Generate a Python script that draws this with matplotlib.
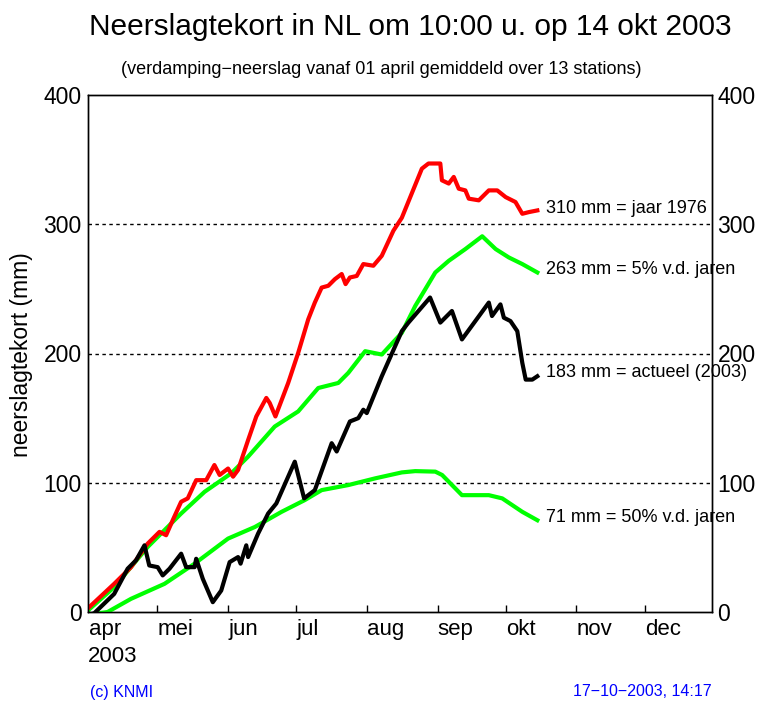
import matplotlib
matplotlib.use("Agg")
import matplotlib.pyplot as plt

plt.rcParams['font.family'] = ['Liberation Sans', 'DejaVu Sans']

# days since 1 April 2003
red_days = [0, 11, 18.4, 25.7, 30.9, 33.8, 36.7, 40.4, 43.3, 47, 51.4, 55, 57.3, 61, 63.2, 65.4, 69.8, 73.4,
            77.8, 79.3, 81.8, 87.4, 91.8, 96.2, 99.1, 102.1, 105, 107.9, 110.9, 112.6, 114.5, 117.5, 120.4,
            124.8, 128.5, 133.6, 137.3, 146.1, 149, 154.2, 154.9, 157.9, 160.1, 162.3, 165.2, 166.7, 171.1,
            175.5, 179.2, 182.9, 187.2, 190.2, 193.1, 196.8]
red_vals = [3.7, 21.8, 34.7, 52.9, 62, 59.4, 71, 85.3, 87.9, 102, 102, 113.7, 106, 111, 104.7, 109.9, 133, 151.3,
            165.6, 161.7, 151.3, 177.2, 200.5, 226.4, 239.4, 251, 252.4, 257.5, 261.5, 253.7, 258.8, 260, 269.2,
            267.9, 275.6, 295, 305, 343, 347, 347, 334, 331.5, 336.6, 327.5, 326.2, 319.8, 318.5,
            326.2, 326.2, 321, 317.2, 308.1, 309.4, 310.7]

p5_days = [0, 11, 25.7, 40.4, 50.7, 62.4, 69.8, 81.5, 91.8, 100.6, 109.4, 113.8, 121.2, 128.5, 137.3,
           143.2, 152, 157.9, 165.2, 172.6, 178.5, 184.3, 190.2, 196.8]
p5_vals = [2, 19.2, 50.3, 76.2, 93, 107.3, 120.2, 143.5, 155.2, 173.3, 177.2, 185, 201.8, 199.2, 216,
           236.8, 262.7, 271.7, 280.8, 290.7, 280.8, 274.3, 269.2, 262.7]

p50_days = [0, 8.1, 18.4, 33.1, 46.3, 61, 72.8, 84.5, 94.7, 102.1, 113.8, 125.6, 137.3, 143.2, 152, 155,
            163.7, 175.5, 181.4, 190.2, 196.8]
p50_vals = [-2, 0, 10.2, 21.8, 37.4, 56.8, 65.8, 77.5, 86.6, 94.3, 98.2, 103.4, 108, 109, 108.6, 106,
            90.4, 90.4, 87.9, 77.5, 71]

act_days = [0, 2.2, 11, 16.9, 20.6, 24.3, 26.4, 30.1, 32.3, 35.3, 40.4, 42.6, 46.3, 47, 49.9, 54.3, 58,
            61.7, 65.4, 66.5, 69, 69.8, 74.2, 78.6, 82.2, 90.3, 94.4, 99.1, 106.5, 108.7, 114.5, 118.2,
            120.4, 121.9, 128.5, 137.3, 140.2, 149.7, 154.2, 159.3, 163.7, 175.5, 176.9, 180.6, 182.1,
            185, 188, 190.2, 191.7, 194.6, 196.8]
act_vals = [-2, -1, 14, 33.5, 40, 51.6, 36, 34.7, 28.3, 33.5, 45.1, 34.7, 34.7, 41.2, 25.7, 7.6, 16.6,
            38.6, 42.5, 37.4, 51.6, 42.5, 60.7, 76.2, 84, 116.3, 87.9, 94.3, 130.6, 124.2, 147.4, 150,
            156.5, 153.9, 182.4, 217.3, 223.9, 243.3, 223.9, 232.9, 210.9, 239.4, 229, 238, 227.7,
            225.1, 217.3, 192.8, 179.8, 179.8, 182.4]

month_days = [0, 30, 61, 91, 122, 153, 183, 214, 244]
month_labels = ['apr', 'mei', 'jun', 'jul', 'aug', 'sep', 'okt', 'nov', 'dec']
y_ticks = [0, 100, 200, 300, 400]
grid_levels = [100, 200, 300]
annotations = ['310 mm = jaar 1976', '263 mm = 5% v.d. jaren',
               '183 mm = actueel (2003)', '71 mm = 50% v.d. jaren']
annot_vals = [310, 263, 183, 71]

fig = plt.figure(figsize=(7.61, 7.04), dpi=100)
ax = fig.add_axes([88/761, 1-612/704, (712-88)/761, (612-95)/704])

for g in grid_levels:
    ax.axhline(g, color='black', lw=1.0, ls=(0, (2.5, 2.5)), zorder=1)

ax.plot(p50_days, p50_vals, color='#00ff00', lw=3, solid_joinstyle='round', zorder=3)
ax.plot(p5_days, p5_vals, color='#00ff00', lw=3, solid_joinstyle='round', zorder=3)
ax.plot(red_days, red_vals, color='#ff0000', lw=3, solid_joinstyle='round', zorder=4)
ax.plot(act_days, act_vals, color='black', lw=3, solid_joinstyle='round', zorder=5)

ax.set_xlim(-0.5, 273.5)
ax.set_ylim(0, 400)
ax.set_xticks(month_days)
ax.set_xticklabels(month_labels, ha='left', fontsize=16)
ax.tick_params(axis='x', direction='in', length=5, width=1, pad=5)
ax.set_yticks(y_ticks)
ax.set_yticklabels([str(v) for v in y_ticks], fontsize=16.5)
ax.tick_params(axis='y', length=0, pad=4.5)

ax2 = ax.twinx()
ax2.set_ylim(0, 400)
ax2.set_yticks(y_ticks)
ax2.set_yticklabels([str(v) for v in y_ticks], fontsize=16.5)
ax2.tick_params(axis='y', length=0, pad=4)

for s in list(ax.spines.values()) + list(ax2.spines.values()):
    s.set_linewidth(1.0)

fig.text(88/761, 1 - 656/704, '2003', fontsize=16, ha='left', va='center')

for txt, v in zip(annotations, annot_vals):
    ax.text(200.5, v + 2, txt, fontsize=13, ha='left', va='center', zorder=6)

ax.set_ylabel('neerslagtekort (mm)', fontsize=16.5)
ax.yaxis.set_label_coords((33 - 88) / 624, (612 - 355) / 517)

fig.text(410/761, 1-27/704, 'Neerslagtekort in NL om 10:00 u. op 14 okt 2003', fontsize=21.5,
         ha='center', va='center')
fig.text(381/761, 1-69/704, '(verdamping\u2212neerslag vanaf 01 april gemiddeld over 13 stations)', fontsize=13,
         ha='center', va='center')
fig.text(90/761, 1-692/704, '(c) KNMI', fontsize=11.5, color='#0000ff', ha='left', va='center')
fig.text(712/761, 1-692/704, '17\u221210\u22122003, 14:17', fontsize=11.5, color='#0000ff', ha='right', va='center')

fig.savefig('out.png', dpi=100)
